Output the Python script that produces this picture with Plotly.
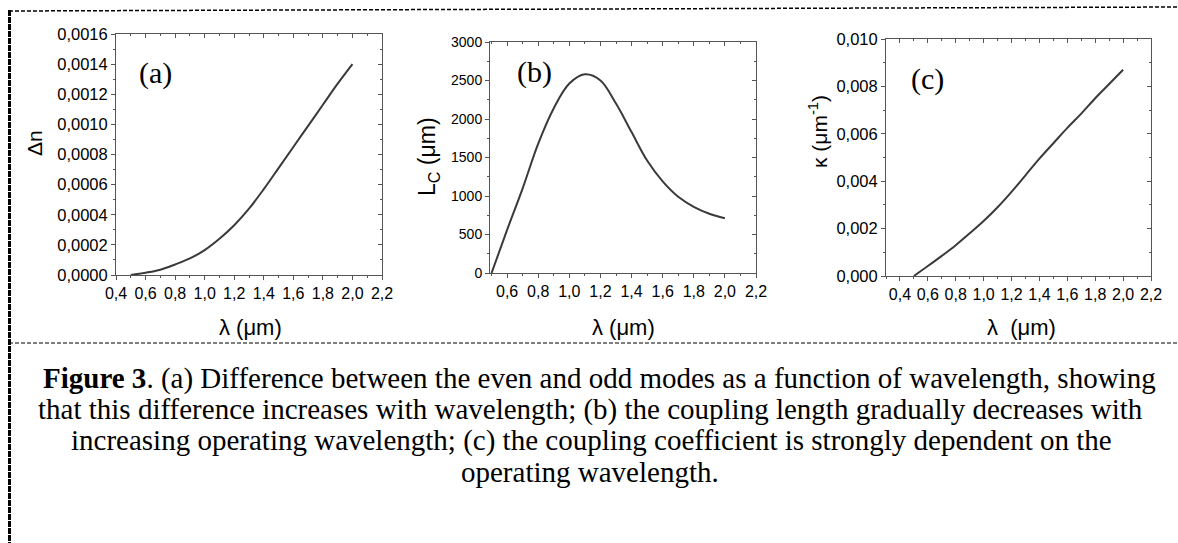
import plotly.graph_objects as go

W, H = 1178, 543

# ---------------- data ----------------
lam_a = [0.5, 0.6, 0.7, 0.8, 0.9, 1.0, 1.1, 1.2, 1.3, 1.4, 1.5, 1.6, 1.7, 1.8, 1.9, 2.0]
dn = [0.0, 0.000015, 0.000035, 0.00007, 0.00011, 0.000165, 0.00024, 0.00033, 0.00044,
      0.00057, 0.00071, 0.00085, 0.00099, 0.00113, 0.00127, 0.0014]

lam_b = [0.5, 0.6, 0.7, 0.8, 0.9, 1.0, 1.1, 1.2, 1.3, 1.4, 1.5, 1.6, 1.7, 1.8, 1.9, 2.0]
lc = [0, 560, 1100, 1680, 2140, 2460, 2580, 2500, 2200, 1830, 1460, 1190, 990, 860, 770, 710]

lam_c = [0.5, 0.6, 0.7, 0.8, 0.9, 1.0, 1.1, 1.2, 1.3, 1.4, 1.5, 1.6, 1.7, 1.8, 1.9, 2.0]
kappa = [0.0, 0.00042, 0.00085, 0.0013, 0.0018, 0.00232, 0.0029, 0.00355, 0.00425, 0.00495,
         0.0056, 0.00625, 0.00685, 0.0075, 0.0081, 0.0087]

caption_lines = [
    "<b>Figure 3</b>. (a) Difference between the even and odd modes as a function of wavelength, showing",
    "that this difference increases with wavelength; (b) the coupling length gradually decreases with",
    "increasing operating wavelength; (c) the coupling coefficient is strongly dependent on the",
    "operating wavelength.",
]

# ---------------- layout helpers (pixel -> paper fraction) ----------------
def fx(x):
    return x / W

def fy(y):
    return 1 - y / H

sans = "Liberation Sans, Arial, sans-serif"
serif = "Liberation Serif, Times New Roman, serif"
axcol = "#555555"

panels = [
    dict(x0=116, x1=382, yt=34, yb=275, xr=[0.4, 2.2], yr=[0, 0.0016], yd=0.0002, ym=0.0001,
         yf=".4f", ytsize=16.5, xs=lam_a, ys=dn),
    dict(x0=490, x1=756, yt=42, yb=273, xr=[0.49, 2.2], yr=[0, 3000], yd=500, ym=250,
         yf="d", ytsize=14, xs=lam_b, ys=lc),
    dict(x0=886, x1=1151, yt=39, yb=276, xr=[0.3, 2.2], yr=[0, 0.010], yd=0.002, ym=0.001,
         yf=".3f", ytsize=16.5, xs=lam_c, ys=kappa),
]

fig = go.Figure()
layout = {}

for i, p in enumerate(panels):
    n = i + 1
    sfx = str(n) if n > 1 else ""
    xref, yref = "x" + sfx, "y" + sfx
    fig.add_trace(go.Scatter(x=p["xs"], y=p["ys"], mode="lines", line_shape="spline",
                             line=dict(color="#3a3a3a", width=2), xaxis=xref, yaxis=yref,
                             showlegend=False, hoverinfo="skip"))
    layout["xaxis" + sfx] = dict(
        domain=[fx(p["x0"]), fx(p["x1"])], range=p["xr"], anchor=yref, automargin=False,
        showgrid=False, zeroline=False, showline=True, linecolor=axcol, linewidth=1,
        ticks="outside", ticklen=4, tickcolor=axcol, tickwidth=1,
        dtick=0.2, tick0=0.4, tickformat=".1f",
        tickfont=dict(family=sans, size=16, color="black"),
        minor=dict(ticks="outside", ticklen=2, dtick=0.1, tick0=0.4, tickcolor=axcol))
    layout["yaxis" + sfx] = dict(
        domain=[fy(p["yb"]), fy(p["yt"])], range=p["yr"], anchor=xref, automargin=False,
        showgrid=False, zeroline=False, showline=True, linecolor=axcol, linewidth=1,
        ticks="outside", ticklen=4, tickcolor=axcol, tickwidth=1,
        dtick=p["yd"], tick0=0, tickformat=p["yf"],
        tickfont=dict(family=sans, size=p["ytsize"], color="black"),
        minor=dict(ticks="outside", ticklen=2, dtick=p["ym"], tick0=0, tickcolor=axcol))
    # mirrored frame axes with inward ticks (top / right)
    m = str(n + 3)
    fig.add_trace(go.Scatter(x=p["xs"], y=p["ys"], mode="lines", opacity=0,
                             xaxis="x" + m, yaxis="y" + m, showlegend=False, hoverinfo="skip"))
    layout["xaxis" + m] = dict(
        domain=[fx(p["x0"]), fx(p["x1"])], range=p["xr"], anchor="y" + m, automargin=False,
        overlaying=xref, side="top", showgrid=False, zeroline=False,
        showline=True, linecolor=axcol, linewidth=1,
        ticks="inside", ticklen=4, tickcolor=axcol, showticklabels=False,
        dtick=0.2, tick0=0.4,
        minor=dict(ticks="inside", ticklen=2, dtick=0.1, tick0=0.4, tickcolor=axcol))
    layout["yaxis" + m] = dict(
        domain=[fy(p["yb"]), fy(p["yt"])], range=p["yr"], anchor="x" + m, automargin=False,
        overlaying=yref, side="right", showgrid=False, zeroline=False,
        showline=True, linecolor=axcol, linewidth=1,
        ticks="inside", ticklen=4, tickcolor=axcol, showticklabels=False,
        dtick=p["yd"], tick0=0,
        minor=dict(ticks="inside", ticklen=2, dtick=p["ym"], tick0=0, tickcolor=axcol))

annotations = []

# x axis titles
for cx, txt in [(250, "λ (μm)"), (623, "λ (μm)"), (1021, "λ  (μm)")]:
    annotations.append(dict(x=fx(cx), y=fy(327), xref="paper", yref="paper", text=txt,
                            showarrow=False, xanchor="center", yanchor="middle",
                            font=dict(family=sans, size=22, color="black")))
# y axis titles
for cx, cy, txt, sz in [(34, 143, "Δn", 21), (428, 157, "L<sub>C</sub> (μm)", 23),
                        (818, 132, "κ (μm<sup>-1</sup>)", 21)]:
    annotations.append(dict(x=fx(cx), y=fy(cy), xref="paper", yref="paper", text=txt,
                            showarrow=False, xanchor="center", yanchor="middle", textangle=-90,
                            font=dict(family=sans, size=sz, color="black")))
# panel labels
for cx, cy, txt in [(155, 73, "(a)"), (534, 72, "(b)"), (927, 79, "(c)")]:
    annotations.append(dict(x=fx(cx), y=fy(cy), xref="paper", yref="paper", text=txt,
                            showarrow=False, xanchor="center", yanchor="middle",
                            font=dict(family=serif, size=30, color="black")))
# caption
caption_cx = [599, 590, 591, 590]
for k, line in enumerate(caption_lines):
    annotations.append(dict(x=fx(caption_cx[k]), y=fy(378 + 31.3 * k), xref="paper", yref="paper",
                            text=line, showarrow=False, xanchor="center", yanchor="middle",
                            font=dict(family=serif, size=29, color="black")))

shapes = [
    dict(type="line", xref="paper", yref="paper", x0=fx(9), x1=fx(1178), y0=fy(11), y1=fy(7),
         line=dict(color="black", width=1.5, dash="4px,2px")),
    dict(type="line", xref="paper", yref="paper", x0=fx(9), x1=fx(1178), y0=fy(343), y1=fy(343),
         line=dict(color="black", width=1, dash="4px,2px")),
    dict(type="line", xref="paper", yref="paper", x0=fx(9.5), x1=fx(9.5), y0=fy(10), y1=fy(543),
         line=dict(color="black", width=3, dash="6px,1px")),
]

fig.update_layout(width=W, height=H, margin=dict(l=0, r=0, t=0, b=0, pad=0, autoexpand=False),
                  paper_bgcolor="white", plot_bgcolor="white", separators=",.",
                  annotations=annotations, shapes=shapes, showlegend=False, **layout)

fig.write_html("out.html", config=dict(displayModeBar=False))
